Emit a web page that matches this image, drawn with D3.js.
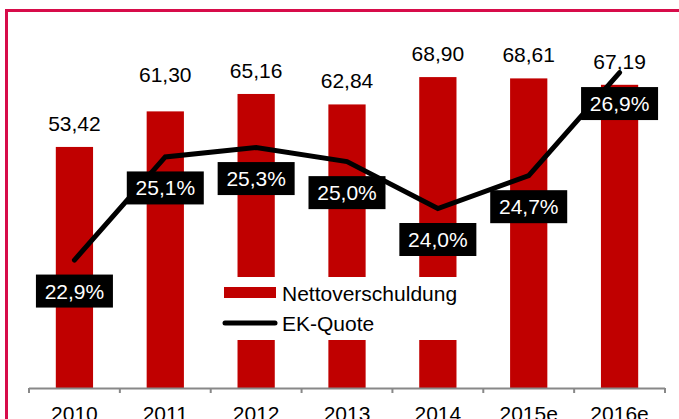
<!DOCTYPE html>
<html>
<head>
<meta charset="utf-8">
<script src="https://cdn.jsdelivr.net/npm/d3@7"></script>
<style>
  html, body { margin: 0; padding: 0; background: #fff; }
  svg { display: block; font-family: "Liberation Sans", Arial, sans-serif; }
</style>
</head>
<body>
<svg id="chart"></svg>
<script>
const YEARS = ["2010", "2011", "2012", "2013", "2014", "2015e", "2016e"]
const NETTO = [53.42, 61.30, 65.16, 62.84, 68.90, 68.61, 67.19]
const EK_QUOTE = [22.9, 25.1, 25.3, 25.0, 24.0, 24.7, 26.9]
// extra lift for value labels that were moved by hand
const LABEL_LIFT = [0, 13, 0, 0, 0, 0, 0]

const LEGEND_ITEMS = ["Nettoverschuldung", "EK-Quote"]

const W = 679, H = 419
const RED = "#c00000"
const FRAME = "#d70c4a"

const plot = { left: 29, right: 665, top: 27, bottom: 388 }

const fmt = (v, n) => v.toFixed(n).replace(".", ",")

const svg = d3.select("#chart")
    .attr("width", W)
    .attr("height", H)

// frame (left + top visible)
svg.append("path")
    .attr("d", "M6.5," + H + " V10.5 H" + W)
    .attr("fill", "none")
    .attr("stroke", FRAME)
    .attr("stroke-width", 3)

const x = d3.scaleBand()
    .domain(YEARS)
    .range([plot.left, plot.right])
    .padding(0)

const y = d3.scaleLinear().domain([0, 80]).range([plot.bottom, plot.top])
const y2 = d3.scaleLinear().domain([20, 28]).range([396, 21])

const barW = x.bandwidth() * 0.41
const cx = d => x(d) + x.bandwidth() / 2

// bars
svg.append("g")
    .selectAll("rect")
    .data(NETTO)
    .join("rect")
    .attr("x", (d, i) => cx(YEARS[i]) - barW / 2)
    .attr("y", d => y(d))
    .attr("width", barW)
    .attr("height", d => y(0) - y(d))
    .attr("fill", RED)

// value labels above bars
svg.append("g")
    .selectAll("text")
    .data(NETTO)
    .join("text")
    .attr("x", (d, i) => cx(YEARS[i]))
    .attr("y", (d, i) => y(d) - 16 - LABEL_LIFT[i])
    .attr("text-anchor", "middle")
    .style("font-size", "21px")
    .attr("fill", "#000")
    .text(d => fmt(d, 2))

// axis: line + ticks at category edges
const axis = svg.append("g").attr("class", "x-axis")
const edges = YEARS.map(d => x(d)).concat([plot.right])

axis.append("line")
    .attr("x1", plot.left).attr("x2", plot.right)
    .attr("y1", plot.bottom + 0.5).attr("y2", plot.bottom + 0.5)
    .attr("stroke", "#888")
    .attr("stroke-width", 2)

axis.selectAll("line.tick")
    .data(edges)
    .join("line")
    .attr("class", "tick")
    .attr("x1", d => d).attr("x2", d => d)
    .attr("y1", plot.bottom).attr("y2", plot.bottom + 5)
    .attr("stroke", "#888")
    .attr("stroke-width", 2)

axis.selectAll("text")
    .data(YEARS)
    .join("text")
    .attr("x", d => cx(d))
    .attr("y", 421)
    .attr("text-anchor", "middle")
    .style("font-size", "21px")
    .text(d => d)

// legend (white box over the bars)
const lg = svg.append("g")
lg.append("rect")
    .attr("x", 219).attr("y", 277)
    .attr("width", 244).attr("height", 63)
    .attr("fill", "#fff")
lg.append("rect")
    .attr("x", 224).attr("y", 287)
    .attr("width", 52).attr("height", 11)
    .attr("fill", RED)
lg.append("line")
    .attr("x1", 225).attr("x2", 275)
    .attr("y1", 323).attr("y2", 323)
    .attr("stroke", "#000")
    .attr("stroke-width", 5)
    .attr("stroke-linecap", "round")
lg.selectAll("text")
    .data(LEGEND_ITEMS)
    .join("text")
    .attr("x", 282)
    .attr("y", (d, i) => 301 + i * 30)
    .style("font-size", "21px")
    .text(d => d)

// EK-Quote line
const line = d3.line()
    .x((d, i) => cx(YEARS[i]))
    .y(d => y2(d))

svg.append("path")
    .datum(EK_QUOTE)
    .attr("d", line)
    .attr("fill", "none")
    .attr("stroke", "#000")
    .attr("stroke-width", 5)
    .attr("stroke-linecap", "round")
    .attr("stroke-linejoin", "miter")

// percentage labels in black boxes
const boxW = 77, boxH = 33, boxDrop = 31
const pl = svg.append("g")
    .selectAll("g")
    .data(EK_QUOTE)
    .join("g")
    .attr("transform", (d, i) =>
        "translate(" + cx(YEARS[i]) + "," + (y2(d) + boxDrop) + ")")

pl.append("rect")
    .attr("x", -boxW / 2)
    .attr("y", -boxH / 2)
    .attr("width", boxW)
    .attr("height", boxH)
    .attr("fill", "#000")

pl.append("text")
    .attr("text-anchor", "middle")
    .attr("y", 7.5)
    .attr("fill", "#fff")
    .style("font-size", "21px")
    .text(d => fmt(d, 1) + "%")
</script>
</body>
</html>
